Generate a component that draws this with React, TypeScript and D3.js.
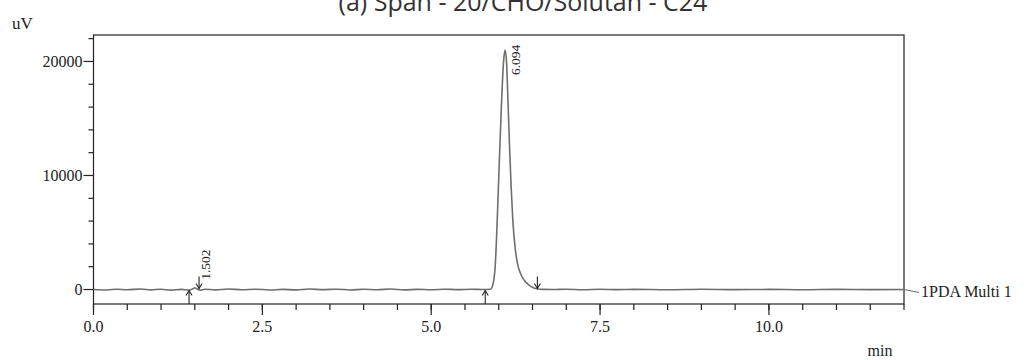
import React from "react";
import * as d3 from "d3";

const titleText = "(a) Span - 20/CHO/Solutan - C24";
const timeMin = [
  0.0, 0.2, 0.35, 0.5, 0.7, 0.85, 1.0, 1.15, 1.3, 1.42, 1.47, 1.5, 1.53, 1.58, 1.65, 1.8,
  2.0, 2.2, 2.4, 2.6, 2.8, 3.0, 3.2, 3.4, 3.6, 3.8, 4.0, 4.2, 4.4, 4.6, 4.8, 5.0, 5.2,
  5.4, 5.6, 5.75, 5.88, 5.92, 5.95, 5.98, 6.01, 6.04, 6.07, 6.094, 6.115, 6.135, 6.16,
  6.185, 6.21, 6.24, 6.28, 6.33, 6.4, 6.48, 6.56, 6.65, 6.8, 7.0, 7.25,
  7.5, 7.75, 8.0, 8.5, 9.0, 9.5, 10.0, 10.5, 11.0, 11.5, 12.0,
];
const signalUV = [
  0, -40, 30, -20, 40, -30, 20, -50, 10, -40, 60, 150, 60, -60, 20, -30,
  40, -20, 30, -40, 10, -30, 40, -10, 30, -40, 20, -20, 40, -30, 10, -20, 30,
  -10, 20, 0, 30, 600, 2300, 6500, 11500, 16200, 19900, 21000, 20000, 16800, 12500,
  8800, 5900, 3800, 2200, 1300, 650, 250, 60, 10, 0, 30, -20,
  20, -10, 10, -20, 20, -10, 10, -20, 10, -10, 0,
];
const peakTimes = [1.502, 6.094];
const peakHeights = [150, 21000];
const startTimes = [1.415, 5.8];
const endTimes = [1.563, 6.572];
const xMajorTicks = [0, 2.5, 5, 7.5, 10];
const xMinorTicks = d3.range(0, 12.01, 0.5);
const yMajorTicks = [0, 10000, 20000];
const yMinorTicks = [2000, 4000, 6000, 8000, 12000, 14000, 16000, 18000, 22000];
const seriesName = "1PDA Multi 1";
const xUnit = "min";
const yUnit = "uV";

const W = 1032;
const H = 360;
const L = 93.5;
const R = 904;
const T = 35;
const B = 304;

export default function App() {
  const x = d3.scaleLinear().domain([0, 12]).range([L, R]);
  const y = d3.scaleLinear().domain([-1270, 22320]).range([B, T]);
  const pts: [number, number][] = timeMin.map((t, i) => [t, signalUV[i]]);
  const line = d3
    .line<[number, number]>()
    .x((d) => x(d[0]))
    .y((d) => y(d[1]))
    .curve(d3.curveMonotoneX);
  const serif = "'Liberation Serif', 'Times New Roman', serif";
  const axisColor = "#222";
  const y0 = y(0);
  return (
    <svg
      width={W}
      height={H}
      style={{ position: "absolute", left: 0, top: 0, background: "#fff" }}
    >
      <rect x={0} y={0} width={W} height={H} fill="#fff" />
      <text
        x={523}
        y={11}
        textAnchor="middle"
        fontFamily="'Open Sans', 'Noto Sans', sans-serif"
        fontSize={25}
        fill="#333"
      >
        {titleText}
      </text>
      {/* frame */}
      <rect x={L} y={T} width={R - L} height={B - T} fill="none" stroke={axisColor} strokeWidth={1.2} />
      {/* y ticks */}
      {yMajorTicks.map((v) => (
        <g key={"ym" + v}>
          <line x1={L - 10} x2={L} y1={y(v)} y2={y(v)} stroke={axisColor} strokeWidth={1.2} />
          <text x={L - 11} y={y(v) + 5.5} textAnchor="end" fontFamily={serif} fontSize={16} fill="#222">
            {v}
          </text>
        </g>
      ))}
      {yMinorTicks.map((v) => (
        <line key={"yn" + v} x1={L - 5} x2={L} y1={y(v)} y2={y(v)} stroke={axisColor} strokeWidth={1.2} />
      ))}
      {/* x ticks */}
      {xMinorTicks.map((v) => (
        <line key={"xn" + v} x1={x(v)} x2={x(v)} y1={B} y2={B + 6} stroke={axisColor} strokeWidth={1.2} />
      ))}
      {xMajorTicks.map((v) => (
        <g key={"xm" + v}>
          <line x1={x(v)} x2={x(v)} y1={B} y2={B + 11} stroke={axisColor} strokeWidth={1.2} />
          <text x={x(v)} y={332} textAnchor="middle" fontFamily={serif} fontSize={16} fill="#222">
            {v.toFixed(1)}
          </text>
        </g>
      ))}
      <text x={12} y={29} fontFamily={serif} fontSize={17} fill="#222">
        {yUnit}
      </text>
      <text x={880} y={356} textAnchor="middle" fontFamily={serif} fontSize={16} fill="#222">
        {xUnit}
      </text>
      {/* trace */}
      <path d={line(pts) || ""} fill="none" stroke="#6e6e6e" strokeWidth={1.6} />
      {/* series label */}
      <line x1={R} y1={y0} x2={919} y2={y0 + 3} stroke="#6e6e6e" strokeWidth={1.2} />
      <text x={921} y={y0 + 7} fontFamily={serif} fontSize={16} fill="#222">
        {seriesName}
      </text>
      {/* integration markers */}
      {startTimes.map((t, i) => {
        const xx = x(t);
        return (
          <g key={"s" + i} stroke="#222" strokeWidth={1.1} fill="none">
            <line x1={xx} x2={xx} y1={B} y2={y0 + 1} />
            <path d={`M${xx - 3},${y0 + 6} L${xx},${y0 + 1} L${xx + 3},${y0 + 6}`} />
          </g>
        );
      })}
      {endTimes.map((t, i) => {
        const xx = x(t);
        return (
          <g key={"e" + i} stroke="#222" strokeWidth={1.1} fill="none">
            <line x1={xx} x2={xx} y1={y0 - 13} y2={y0 - 1} />
            <path d={`M${xx - 3},${y0 - 6} L${xx},${y0 - 1} L${xx + 3},${y0 - 6}`} />
          </g>
        );
      })}
      {/* peak labels */}
      {peakTimes.map((t, i) => {
        const lx = x(t) + 15;
        const labelLen = 35;
        const ly = Math.max(y(peakHeights[i]) - 8, T + 5 + labelLen);
        return (
          <text
            key={"p" + i}
            transform={`translate(${lx},${ly}) rotate(-90)`}
            fontFamily={serif}
            fontSize={13.5}
            fill="#222"
          >
            {t.toFixed(3)}
          </text>
        );
      })}
    </svg>
  );
}
